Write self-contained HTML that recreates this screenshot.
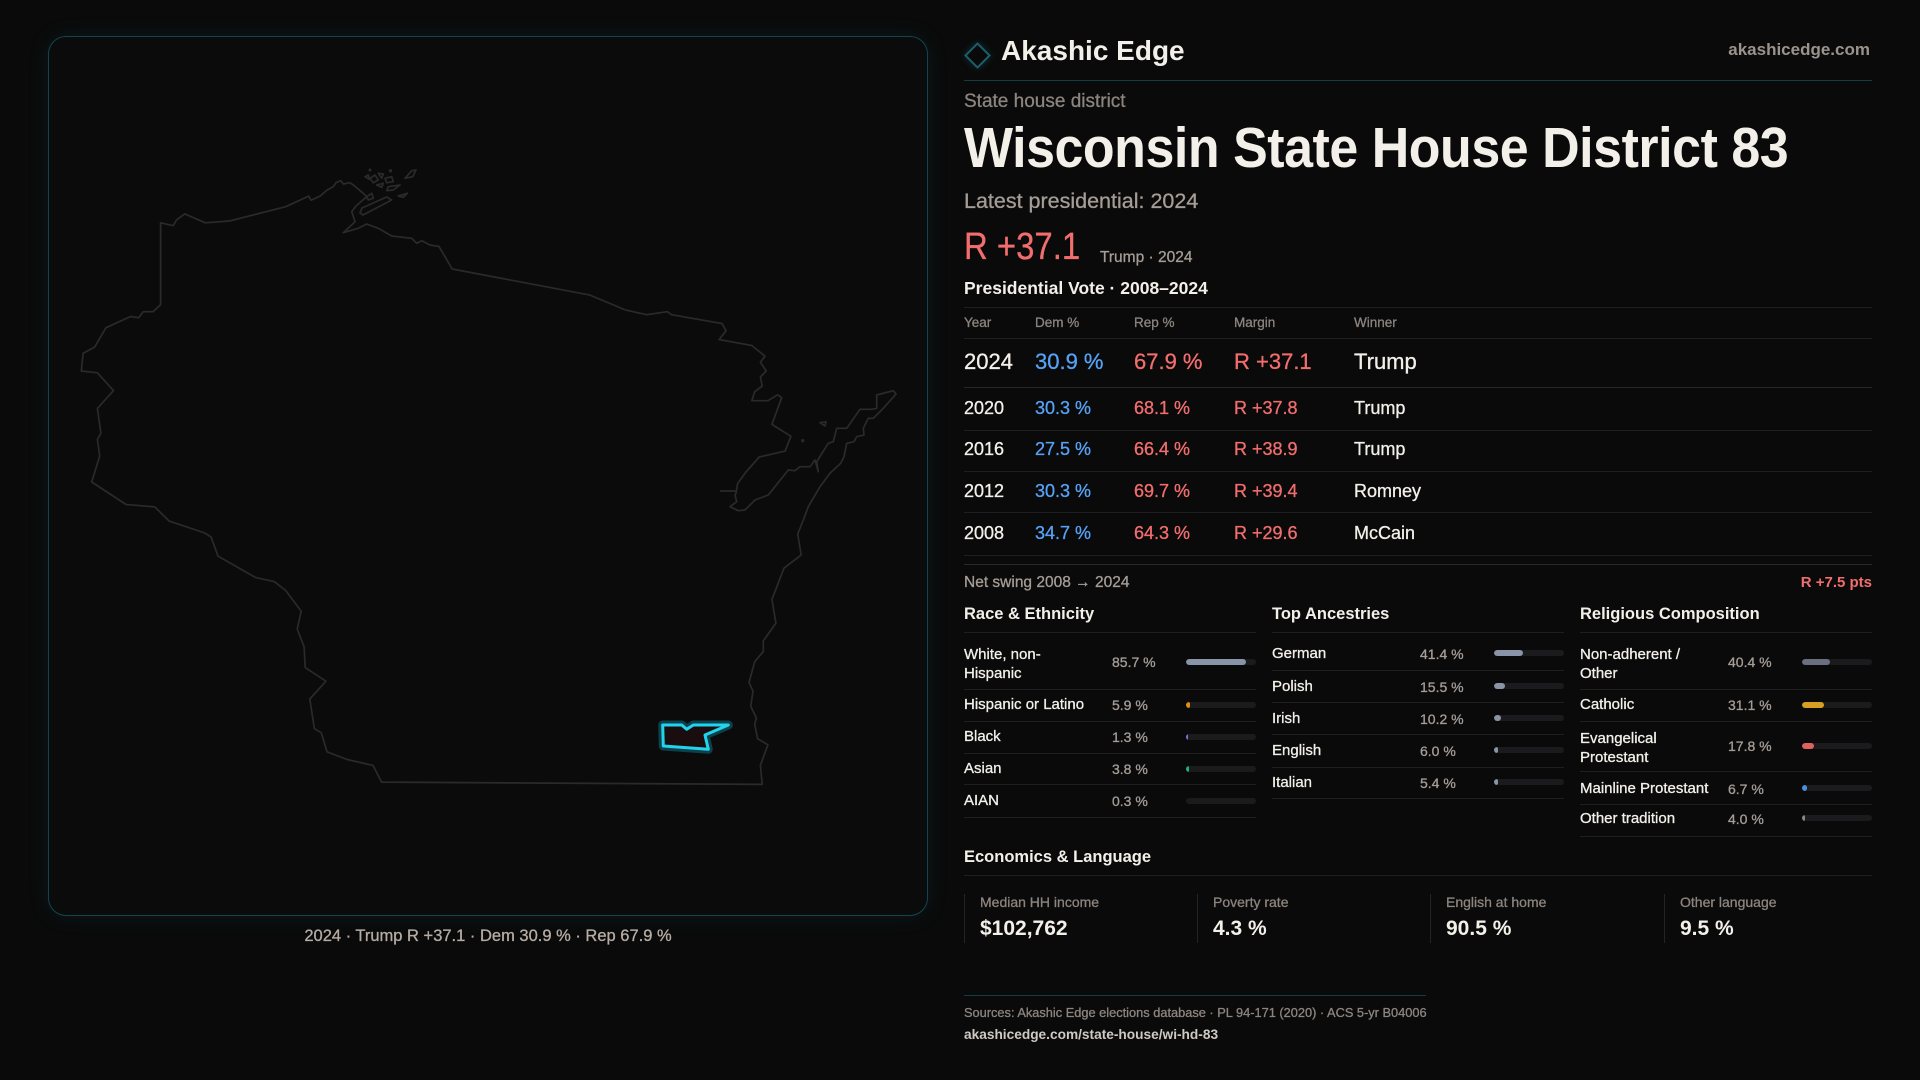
<!DOCTYPE html>
<html><head><meta charset="utf-8">
<style>
*{margin:0;padding:0;box-sizing:border-box}
html,body{width:1920px;height:1080px;background:#0a0a0a;overflow:hidden}
body{position:relative;font-family:"Liberation Sans",sans-serif;color:#f0ece6}
.t{position:absolute;line-height:1;white-space:nowrap;-webkit-text-stroke:0.3px currentColor}
.t.b{-webkit-text-stroke:0}
.sx{display:inline-block;transform-origin:0 50%}
.b{font-weight:700}
.g{color:#8c847e}
.g2{color:#a59d96}
.w{color:#f3f0ea}
.bl{color:#56a1f5}
.rd{color:#f26d6d}
.ln{position:absolute;height:1px;background:#1f1f1f}
.bar{position:absolute;height:6px;width:70px;border-radius:3px;background:#1b1b1e;overflow:hidden}
.bar i{display:block;height:6px;border-radius:3px}
.card{position:absolute;top:894px;height:49px;width:233px;border-left:1px solid #242424}
</style></head><body>

<!-- Map panel -->
<div style="position:absolute;left:48px;top:36px;width:880px;height:880px;border:1.5px solid #0f4651;border-radius:18px;background:#0c0b0c;box-shadow:0 0 22px rgba(20,120,140,0.13)"></div>
<svg style="position:absolute;left:0;top:0" width="960" height="1080" viewBox="0 0 960 1080">
<g fill="none" stroke="#2b2a2a" stroke-width="1.7" stroke-linejoin="round">
<polygon points="160.6,304.6 160.6,222.8 173.2,225.7 176.6,219.8 184.7,213.9 205.3,222.8 229.4,221 285.7,206.7 308.7,196.1 311,200.2 320.1,196.1 327,190.1 333.3,186.7 336,182.7 340.7,180.7 343.3,184 350,182.7 353.3,185 363.3,193.3 366.7,196.7 356,206 351.7,211.7 355,221.7 343.3,232.7 358.3,228.3 366.7,224 378.3,228.3 391.7,236 411.7,238.3 416.7,243.3 421.7,240.7 430,245 439,246.5 452.2,269 590,295.1 625.5,310 646.8,314.7 667.4,311.7 671.5,314.7 722,323.6 726,330.7 719.1,339.6 751.8,345.5 765,356.2 760.4,362.1 766.2,371 760.4,377 762.2,385.9 754.7,391.8 751.8,400.7 767.9,400.7 777.7,394.8 781.7,397.7 771.9,424.4 790.9,436.3 785.1,451.1 759.3,457 746,471.9 737.5,483.7 736,493.3 735,495 736.7,501.7 730,506.7 738.3,510.7 745,510 755,500 768.3,495 788.3,470 795,470.7 800,466.7 810,466.7 815,460 818.3,471.7 816.7,461.7 828.3,443.3 833.3,441.7 836.7,428.3 846.7,428.3 860,409.3 871.7,409.3 876.7,408.3 876.7,395 893.3,390.7 896,394 883.3,408.3 873.3,418.3 868.3,418.3 863.3,428.3 864,435 856.7,436.7 854,441.7 846.7,443.3 844,456.7 840.7,463.3 830,473.3 820,486.7 808.3,506.7 803.3,520 797.7,534.1 801.2,554.9 784,568.2 771.9,599.4 775.9,623.1 763.3,640.9 763.3,651.6 754.7,661.7 749,682.4 753,691.3 750.7,706.2 756.4,718 754.7,724 757.6,738.8 767.9,744.7 760.4,765.4 762.2,784.4 381.6,782.1 373,765.4 347.1,759.5 327,751.8 321.3,732.8 314.4,728.7 309.8,699 325.9,681.2 305.2,667.6 304.1,646.8 297.2,629 301.2,611.2 285.7,590.5 274.2,581.6 255.3,577.4 218,556.1 211.1,537.1 204.8,533 169.2,521.1 154.8,506.9 126.1,504.5 91.7,482 99.7,455.9 97.4,439.3 100.9,433.3 97.4,408.4 113.5,390.6 97.4,372.8 81.3,371 83.1,353.2 94.5,347.3 106,327.7 130.7,316.5 138.7,317.7 143.3,311.7 153.1,311.7"/>
<line x1="720" y1="491" x2="736" y2="491"/>
<polygon points="360,213 362,208 386.7,197 391.7,200 363,215"/>
<polygon points="405,178.3 411.7,170.7 416,170 412.7,176.7"/>
<polygon points="370,178.3 375,175 378.3,180 373.3,182.7"/>
<polygon points="378.3,173.3 383.3,174 381.7,178.3"/>
<polygon points="385,178.3 391.7,176.7 393.3,181.7 386.7,182.7"/>
<polygon points="376.7,185 383.3,183.3 381.7,187.3"/>
<polygon points="388.3,186.7 400,185 393.3,190 386.7,190.7"/>
<polygon points="398.3,196 407.3,193.3 403.3,197.3"/>
<polygon points="365,176.7 368.3,175 369.3,179.3"/>
<polygon points="366.7,196.7 371.7,193.3 373.3,198.3 368.3,200"/>
<circle cx="390.5" cy="170.8" r="0.8"/>
<circle cx="370" cy="170" r="0.7"/>
<polygon points="820,422.7 826,421.7 825,426"/>
<circle cx="802.7" cy="440.7" r="0.8"/>
</g>
<polygon points="662.7,725 681.7,725 686.7,729.3 693.3,725 728.3,725 705,735 708.3,749.3 663.3,746" fill="none" stroke="#0d4652" stroke-width="9" stroke-linejoin="round" opacity="0.9"/>
<polygon points="662.7,725 681.7,725 686.7,729.3 693.3,725 728.3,725 705,735 708.3,749.3 663.3,746" fill="#1a0d10" stroke="#22d3ee" stroke-width="3" stroke-linejoin="round"/>
</svg>
<div class="t g2" style="left:0;width:976px;text-align:center;top:928px;font-size:16.5px;color:#b5aca4">2024 · Trump R +37.1 · Dem 30.9 % · Rep 67.9 %</div>

<!-- Header -->
<div style="position:absolute;left:968px;top:45.5px;width:19px;height:19px;border:2px solid #1b5f6b;transform:rotate(45deg);box-shadow:0 0 8px rgba(30,150,170,0.25)"></div>
<div class="t b w" style="left:1001px;top:37px;font-size:28px">Akashic Edge</div>
<div class="t b" style="right:50px;top:41px;font-size:17px;color:#9b938c">akashicedge.com</div>
<div class="ln" style="left:964px;top:80px;width:908px;background:#133c44"></div>

<div class="t g" style="left:964px;top:92px;font-size:19px">State house district</div>
<div class="t b w" style="left:964px;top:120px;font-size:57px;letter-spacing:-0.5px"><span class="sx" style="transform:scaleX(0.911)">Wisconsin State House District 83</span></div>
<div class="t g2" style="left:964px;top:191px;font-size:21.5px">Latest presidential: 2024</div>
<div class="t rd" style="left:964px;top:228px;font-size:38px"><span class="sx" style="transform:scaleX(0.866)">R +37.1</span></div>
<div class="t g2" style="left:1100px;top:250px;font-size:15.5px">Trump · 2024</div>
<div class="t b w" style="left:964px;top:280px;font-size:17.5px">Presidential Vote · 2008–2024</div>
<div class="ln" style="left:964px;top:307px;width:908px"></div>

<!-- Table header -->
<div class="t g" style="left:964px;top:316px;font-size:13.5px">Year</div>
<div class="t g" style="left:1035px;top:316px;font-size:13.5px">Dem %</div>
<div class="t g" style="left:1134px;top:316px;font-size:13.5px">Rep %</div>
<div class="t g" style="left:1234px;top:316px;font-size:13.5px">Margin</div>
<div class="t g" style="left:1354px;top:316px;font-size:13.5px">Winner</div>
<div class="ln" style="left:964px;top:338px;width:908px"></div>

<div class="t w" style="left:964px;top:351px;font-size:22px">2024</div>
<div class="t bl" style="left:1035px;top:351px;font-size:22px">30.9 %</div>
<div class="t rd" style="left:1134px;top:351px;font-size:22px">67.9 %</div>
<div class="t rd" style="left:1234px;top:351px;font-size:22px">R +37.1</div>
<div class="t w" style="left:1354px;top:351px;font-size:22px">Trump</div>
<div class="ln" style="left:964px;top:387px;width:908px;background:#262626"></div>

<div class="t w" style="left:964px;top:399px;font-size:18px">2020</div>
<div class="t bl" style="left:1035px;top:399px;font-size:18px">30.3 %</div>
<div class="t rd" style="left:1134px;top:399px;font-size:18px">68.1 %</div>
<div class="t rd" style="left:1234px;top:399px;font-size:18px">R +37.8</div>
<div class="t w" style="left:1354px;top:399px;font-size:18px">Trump</div>
<div class="ln" style="left:964px;top:430px;width:908px"></div>

<div class="t w" style="left:964px;top:440px;font-size:18px">2016</div>
<div class="t bl" style="left:1035px;top:440px;font-size:18px">27.5 %</div>
<div class="t rd" style="left:1134px;top:440px;font-size:18px">66.4 %</div>
<div class="t rd" style="left:1234px;top:440px;font-size:18px">R +38.9</div>
<div class="t w" style="left:1354px;top:440px;font-size:18px">Trump</div>
<div class="ln" style="left:964px;top:471px;width:908px"></div>

<div class="t w" style="left:964px;top:482px;font-size:18px">2012</div>
<div class="t bl" style="left:1035px;top:482px;font-size:18px">30.3 %</div>
<div class="t rd" style="left:1134px;top:482px;font-size:18px">69.7 %</div>
<div class="t rd" style="left:1234px;top:482px;font-size:18px">R +39.4</div>
<div class="t w" style="left:1354px;top:482px;font-size:18px">Romney</div>
<div class="ln" style="left:964px;top:512px;width:908px"></div>

<div class="t w" style="left:964px;top:524px;font-size:18px">2008</div>
<div class="t bl" style="left:1035px;top:524px;font-size:18px">34.7 %</div>
<div class="t rd" style="left:1134px;top:524px;font-size:18px">64.3 %</div>
<div class="t rd" style="left:1234px;top:524px;font-size:18px">R +29.6</div>
<div class="t w" style="left:1354px;top:524px;font-size:18px">McCain</div>
<div class="ln" style="left:964px;top:555px;width:908px"></div>
<div class="ln" style="left:964px;top:564px;width:908px;background:#2a2a2a"></div>

<div class="t g2" style="left:964px;top:575px;font-size:15.5px">Net swing 2008 → 2024</div>
<div class="t b rd" style="right:48px;top:575px;font-size:15px">R +7.5 pts</div>

<!-- Race -->
<div class="t b w" style="left:964px;top:606px;font-size:16.5px">Race &amp; Ethnicity</div>
<div class="ln" style="left:964px;top:632px;width:292px"></div>
<div class="t w" style="left:964px;top:645px;font-size:15px;line-height:19px">White, non-<br>Hispanic</div>
<div class="t g2" style="left:1112px;top:655px;font-size:14px">85.7 %</div>
<div class="bar" style="left:1186px;top:659px"><i style="width:60px;background:#8a94a8"></i></div>
<div class="ln" style="left:964px;top:689px;width:292px"></div>
<div class="t w" style="left:964px;top:697px;font-size:15px">Hispanic or Latino</div>
<div class="t g2" style="left:1112px;top:698px;font-size:14px">5.9 %</div>
<div class="bar" style="left:1186px;top:702px"><i style="width:4px;background:#e0900f"></i></div>
<div class="ln" style="left:964px;top:721px;width:292px"></div>
<div class="t w" style="left:964px;top:729px;font-size:15px">Black</div>
<div class="t g2" style="left:1112px;top:730px;font-size:14px">1.3 %</div>
<div class="bar" style="left:1186px;top:734px"><i style="width:1.5px;background:#8a6cd8"></i></div>
<div class="ln" style="left:964px;top:753px;width:292px"></div>
<div class="t w" style="left:964px;top:761px;font-size:15px">Asian</div>
<div class="t g2" style="left:1112px;top:762px;font-size:14px">3.8 %</div>
<div class="bar" style="left:1186px;top:766px"><i style="width:3px;background:#22b07a"></i></div>
<div class="ln" style="left:964px;top:784px;width:292px"></div>
<div class="t w" style="left:964px;top:793px;font-size:15px">AIAN</div>
<div class="t g2" style="left:1112px;top:794px;font-size:14px">0.3 %</div>
<div class="bar" style="left:1186px;top:798px"></div>
<div class="ln" style="left:964px;top:817px;width:292px"></div>

<!-- Ancestries -->
<div class="t b w" style="left:1272px;top:606px;font-size:16.5px">Top Ancestries</div>
<div class="ln" style="left:1272px;top:632px;width:292px"></div>
<div class="t w" style="left:1272px;top:646px;font-size:15px">German</div>
<div class="t g2" style="left:1420px;top:647px;font-size:14px">41.4 %</div>
<div class="bar" style="left:1494px;top:650px"><i style="width:29px;background:#8a94a8"></i></div>
<div class="ln" style="left:1272px;top:670px;width:292px"></div>
<div class="t w" style="left:1272px;top:679px;font-size:15px">Polish</div>
<div class="t g2" style="left:1420px;top:680px;font-size:14px">15.5 %</div>
<div class="bar" style="left:1494px;top:683px"><i style="width:11px;background:#8a94a8"></i></div>
<div class="ln" style="left:1272px;top:702px;width:292px"></div>
<div class="t w" style="left:1272px;top:711px;font-size:15px">Irish</div>
<div class="t g2" style="left:1420px;top:712px;font-size:14px">10.2 %</div>
<div class="bar" style="left:1494px;top:715px"><i style="width:7px;background:#8a94a8"></i></div>
<div class="ln" style="left:1272px;top:734px;width:292px"></div>
<div class="t w" style="left:1272px;top:743px;font-size:15px">English</div>
<div class="t g2" style="left:1420px;top:744px;font-size:14px">6.0 %</div>
<div class="bar" style="left:1494px;top:747px"><i style="width:4px;background:#8a94a8"></i></div>
<div class="ln" style="left:1272px;top:767px;width:292px"></div>
<div class="t w" style="left:1272px;top:775px;font-size:15px">Italian</div>
<div class="t g2" style="left:1420px;top:776px;font-size:14px">5.4 %</div>
<div class="bar" style="left:1494px;top:779px"><i style="width:4px;background:#8a94a8"></i></div>
<div class="ln" style="left:1272px;top:798px;width:292px"></div>

<!-- Religion -->
<div class="t b w" style="left:1580px;top:606px;font-size:16.5px">Religious Composition</div>
<div class="ln" style="left:1580px;top:632px;width:292px"></div>
<div class="t w" style="left:1580px;top:645px;font-size:15px;line-height:19px">Non-adherent /<br>Other</div>
<div class="t g2" style="left:1728px;top:655px;font-size:14px">40.4 %</div>
<div class="bar" style="left:1802px;top:659px"><i style="width:28px;background:#6b7080"></i></div>
<div class="ln" style="left:1580px;top:689px;width:292px"></div>
<div class="t w" style="left:1580px;top:697px;font-size:15px">Catholic</div>
<div class="t g2" style="left:1728px;top:698px;font-size:14px">31.1 %</div>
<div class="bar" style="left:1802px;top:702px"><i style="width:22px;background:#d8a020"></i></div>
<div class="ln" style="left:1580px;top:721px;width:292px"></div>
<div class="t w" style="left:1580px;top:729px;font-size:15px;line-height:19px">Evangelical<br>Protestant</div>
<div class="t g2" style="left:1728px;top:739px;font-size:14px">17.8 %</div>
<div class="bar" style="left:1802px;top:743px"><i style="width:12px;background:#e06060"></i></div>
<div class="ln" style="left:1580px;top:771px;width:292px"></div>
<div class="t w" style="left:1580px;top:781px;font-size:15px">Mainline Protestant</div>
<div class="t g2" style="left:1728px;top:782px;font-size:14px">6.7 %</div>
<div class="bar" style="left:1802px;top:785px"><i style="width:5px;background:#4a90e0"></i></div>
<div class="ln" style="left:1580px;top:804px;width:292px"></div>
<div class="t w" style="left:1580px;top:811px;font-size:15px">Other tradition</div>
<div class="t g2" style="left:1728px;top:812px;font-size:14px">4.0 %</div>
<div class="bar" style="left:1802px;top:815px"><i style="width:3px;background:#888"></i></div>
<div class="ln" style="left:1580px;top:836px;width:292px"></div>

<!-- Economics -->
<div class="t b w" style="left:964px;top:849px;font-size:16.5px">Economics &amp; Language</div>
<div class="ln" style="left:964px;top:875px;width:908px"></div>
<div class="card" style="left:964px"></div>
<div class="card" style="left:1197px"></div>
<div class="card" style="left:1430px"></div>
<div class="card" style="left:1664px"></div>
<div class="t g" style="left:980px;top:895px;font-size:14px">Median HH income</div>
<div class="t b w" style="left:980px;top:918px;font-size:21px">$102,762</div>
<div class="t g" style="left:1213px;top:895px;font-size:14px">Poverty rate</div>
<div class="t b w" style="left:1213px;top:918px;font-size:21px">4.3 %</div>
<div class="t g" style="left:1446px;top:895px;font-size:14px">English at home</div>
<div class="t b w" style="left:1446px;top:918px;font-size:21px">90.5 %</div>
<div class="t g" style="left:1680px;top:895px;font-size:14px">Other language</div>
<div class="t b w" style="left:1680px;top:918px;font-size:21px">9.5 %</div>

<!-- Footer -->
<div class="ln" style="left:964px;top:995px;width:462px;background:#133c44"></div>
<div class="t g" style="left:964px;top:1007px;font-size:12.8px">Sources: Akashic Edge elections database · PL 94-171 (2020) · ACS 5-yr B04006</div>
<div class="t b" style="left:964px;top:1028px;font-size:13.7px;color:#cfc9c3">akashicedge.com/state-house/wi-hd-83</div>
</body></html>
